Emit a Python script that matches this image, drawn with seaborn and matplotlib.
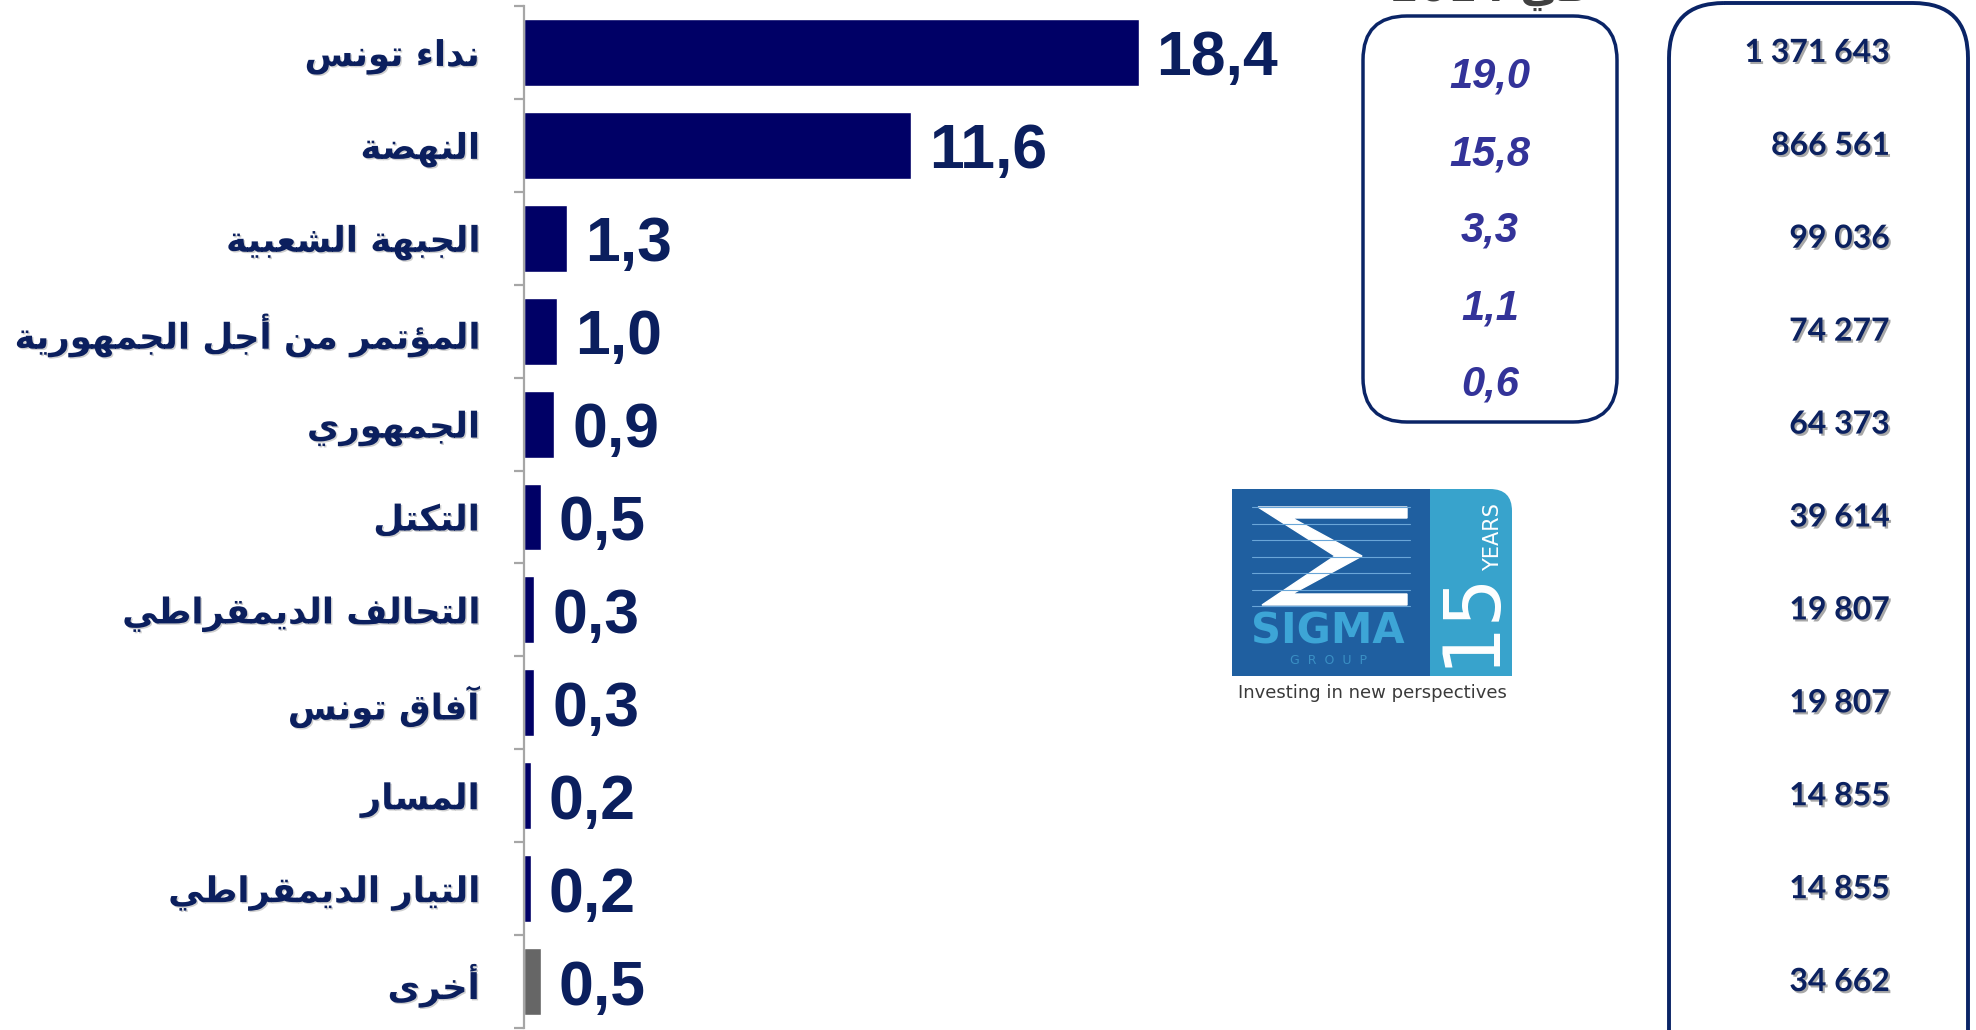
import numpy as np
import pandas as pd
import matplotlib
matplotlib.use('Agg')
import matplotlib.pyplot as plt
import matplotlib.patheffects as pe
from matplotlib.patches import FancyBboxPatch, Rectangle, Polygon
import seaborn as sns

# chart data
parties = ['نداء تونس', 'النهضة', 'الجبهة الشعبية', 'المؤتمر من أجل الجمهورية',
           'الجمهوري', 'التكتل', 'التحالف الديمقراطي', 'آفاق تونس', 'المسار',
           'التيار الديمقراطي', 'أخرى']
shares = [18.4, 11.6, 1.3, 1.0, 0.9, 0.5, 0.3, 0.3, 0.2, 0.2, 0.5]
votes = [1371643, 866561, 99036, 74277, 64373, 39614, 19807, 19807, 14855, 14855, 34662]
shares_2014 = [19.0, 15.8, 3.3, 1.1, 0.6]
header_text = 'في 2014'

# minimal arabic shaping (matplotlib has no bidi / joining support)
FOUR = {'ب': 0xFE8F, 'ت': 0xFE95, 'ج': 0xFE9D, 'ح': 0xFEA1, 'خ': 0xFEA5, 'س': 0xFEB1,
        'ش': 0xFEB5, 'ض': 0xFEBD, 'ط': 0xFEC1, 'ع': 0xFEC9, 'ف': 0xFED1, 'ق': 0xFED5,
        'ك': 0xFED9, 'ل': 0xFEDD, 'م': 0xFEE1, 'ن': 0xFEE5, 'ه': 0xFEE9, 'ي': 0xFEF1}
TWO = {'آ': 0xFE81, 'أ': 0xFE83, 'ؤ': 0xFE85, 'ا': 0xFE8D, 'ة': 0xFE93, 'د': 0xFEA9,
       'ر': 0xFEAD, 'و': 0xFEED, 'ى': 0xFEEF}
LAM_ALEF = {'آ': 0xFEF5, 'أ': 0xFEF7, 'إ': 0xFEF9, 'ا': 0xFEFB}


def shape_word(word):
    tokens = []
    i = 0
    while i < len(word):
        c = word[i]
        if c == 'ل' and i + 1 < len(word) and word[i + 1] in LAM_ALEF:
            tokens.append(('LA', word[i + 1]))
            i += 2
        else:
            tokens.append((c, None))
            i += 1

    def fwd(t):
        return t[0] in FOUR

    def back(t):
        return t[0] in FOUR or t[0] in TWO or t[0] == 'LA'

    out = []
    for j, t in enumerate(tokens):
        jp = j > 0 and fwd(tokens[j - 1]) and back(t)
        jn = j < len(tokens) - 1 and fwd(t) and back(tokens[j + 1])
        c = t[0]
        if c == 'LA':
            out.append(chr(LAM_ALEF[t[1]] + (1 if jp else 0)))
        elif c in FOUR:
            off = 3 if (jp and jn) else 1 if jp else 2 if jn else 0
            out.append(chr(FOUR[c] + off))
        elif c in TWO:
            out.append(chr(TWO[c] + (1 if jp else 0)))
        elif c == 'ء':
            out.append(chr(0xFE80))
        else:
            out.append(c)
    return ''.join(out[::-1])


def ar(text):
    words = [w if w.isdigit() else shape_word(w) for w in text.split(' ')]
    return ' '.join(words[::-1])


navy = '#000066'
text_navy = '#0b1f5e'
box_col = '#0a2466'

sns.set_style('white')
plt.rcParams['font.family'] = ['DejaVu Sans']

fig = plt.figure(figsize=(19.76, 10.30), dpi=100)
ax = fig.add_axes([524 / 1976, 2 / 1030, 1 - 524 / 1976, 1022 / 1030])

labels_vis = [ar(p) for p in parties]
df = pd.DataFrame({'party': labels_vis, 'share': shares})
colors = [navy] * 10 + ['#666666']
sns.barplot(data=df, x='share', y='party', hue='party', palette=colors, legend=False,
            width=0.72, saturation=1, ax=ax)

for cont, v in zip(ax.containers, shares):
    texts = ax.bar_label(cont, labels=[f'{v:.1f}'.replace('.', ',')], padding=13,
                         fontsize=45, fontweight='bold', family='Liberation Sans',
                         color=text_navy)
    for t in texts:
        t.set_va('center_baseline')

ax.set_xlim(0, 1452 / 33.4)
ax.set_ylim(10.5, -0.5)
ax.set_xticks([])
ax.set_xlabel('')
ax.set_ylabel('')
for s in ['top', 'right', 'bottom']:
    ax.spines[s].set_visible(False)
ax.spines['left'].set_color('#a6a6a6')
ax.spines['left'].set_linewidth(1.6)
ax.set_yticks(range(len(parties)))
ax.set_yticklabels(labels_vis, fontsize=25.5, fontweight='bold', family='DejaVu Sans',
                   color=text_navy)
for lbl in ax.get_yticklabels():
    lbl.set_path_effects([pe.withSimplePatchShadow(offset=(1, -1), shadow_rgbFace='#888888', alpha=0.4)])
ax.set_yticks(np.arange(-0.5, len(parties), 1), minor=True)
ax.tick_params(axis='y', which='major', left=True, length=0, pad=32)
ax.tick_params(axis='y', which='minor', left=True, length=7, width=1.6, color='#a6a6a6')

# overlay in pixel coordinates for boxes, numbers and logo
ov = fig.add_axes([0, 0, 1, 1])
ov.set_xlim(0, 1976)
ov.set_ylim(1030, 0)
ov.axis('off')
ov.patch.set_alpha(0)

ov.text(1490, 1, ar(header_text), ha='center', va='baseline', fontsize=30,
        fontweight='bold', color='#404040')

ov.add_patch(FancyBboxPatch((1363, 16), 254, 406, boxstyle='round,pad=0,rounding_size=44',
                            fill=False, ec=box_col, lw=2.5))
for i, v in enumerate(shares_2014):
    ov.text(1490, 77 + 77 * i, f'{v:.1f}'.replace('.', ','), ha='center', va='center',
            fontsize=30, fontweight='bold', fontstyle='italic', family='Liberation Sans',
            color='#333399')

ov.add_patch(FancyBboxPatch((1669, 3), 299, 1200, boxstyle='round,pad=0,rounding_size=55',
                            fill=False, ec=box_col, lw=2.8))
row_h = 1022 / len(parties)
for i, v in enumerate(votes):
    ov.text(1890, 6 + row_h * (i + 0.5), f'{v:,}'.replace(',', ' '), ha='right', va='center',
            fontsize=23, fontweight='bold', family='Lato', color='#0b2160',
            path_effects=[pe.withSimplePatchShadow(offset=(1.5, -1.5), shadow_rgbFace='#6f6f6f', alpha=0.6)])

# SIGMA logo
ov.add_patch(FancyBboxPatch((1400, 489), 112, 187, boxstyle='round,pad=0,rounding_size=22',
                            fc='#38a3cc', ec='none'))
ov.add_patch(Rectangle((1470, 640), 42, 36, fc='#38a3cc', ec='none'))
ov.add_patch(Rectangle((1232, 489), 198, 187, fc='#1f5fa0', ec='none'))
ov.add_patch(Polygon([(1258, 507), (1407, 507), (1407, 518), (1292, 518), (1362, 556),
                      (1292, 594), (1407, 594), (1407, 605), (1262, 605), (1335, 556)],
                     closed=True, fc='white', ec='white', lw=1))
for k in range(7):
    y = 507 + 16.5 * k
    ov.plot([1252, 1410], [y, y], color='#6aa6d8', lw=0.8)
ov.text(1328, 632, 'SIGMA', ha='center', va='center', fontsize=30, fontweight='bold',
        color='#3da5d6')
ov.text(1328, 661, 'G  R  O  U  P', ha='center', va='center', fontsize=9, color='#3a8fc4')
ov.text(1470, 618, '15', ha='center', va='center', rotation=90, fontsize=56, color='white')
ov.text(1493, 537, 'YEARS', ha='center', va='center', rotation=90, fontsize=15, color='white')
ov.text(1372, 693, 'Investing in new perspectives', ha='center', va='center', fontsize=13,
        color='#3a3a3a')

fig.savefig('out.png', dpi=100)
